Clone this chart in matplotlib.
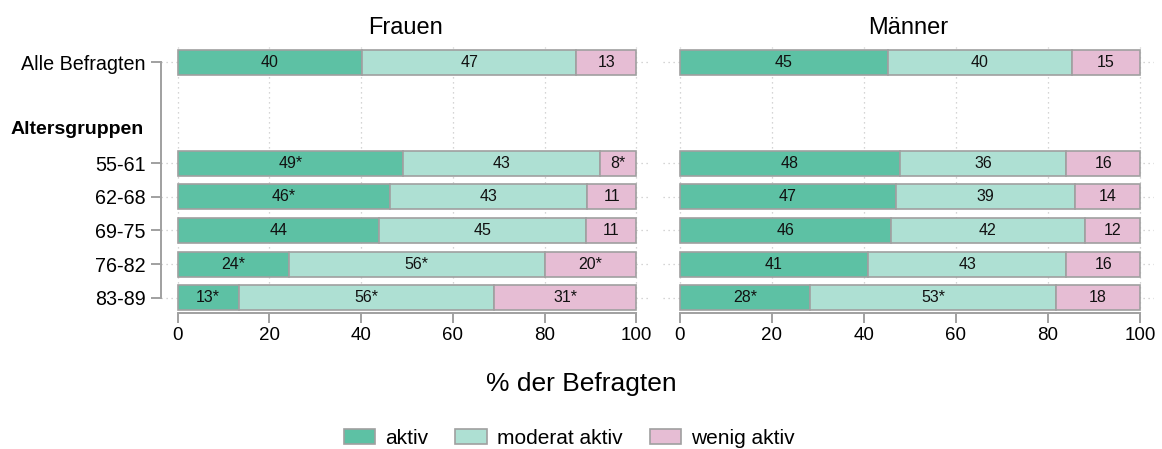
import matplotlib.pyplot as plt
from matplotlib.patches import Patch

plt.rcParams['font.family'] = ['Liberation Sans', 'DejaVu Sans']

# Data
groups = ["Alle Befragten", "55-61", "62-68", "69-75", "76-82", "83-89"]
categories = ["aktiv", "moderat aktiv", "wenig aktiv"]
panels = ["Frauen", "Männer"]

frauen_aktiv = [40.3, 49.2, 46.3, 44, 24.2, 13.3]
frauen_moderat = [46.6, 42.8, 43, 45, 55.8, 55.7]
frauen_wenig = [13.1, 8, 10.7, 11, 20, 31]
frauen_labels = [["40", "49*", "46*", "44", "24*", "13*"],
                 ["47", "43", "43", "45", "56*", "56*"],
                 ["13", "8*", "11", "11", "20*", "31*"]]

maenner_aktiv = [45.2, 47.8, 47, 45.8, 41, 28.3]
maenner_moderat = [39.9, 36.2, 38.8, 42.2, 43, 53.4]
maenner_wenig = [14.9, 16, 14.2, 12, 16, 18.3]
maenner_labels = [["45", "48", "47", "46", "41", "28*"],
                  ["40", "36", "39", "42", "43", "53*"],
                  ["15", "16", "14", "12", "16", "18"]]

colors = ["#5dc1a4", "#aee0d3", "#e6bdd4"]
edge = "#a0a0a0"
ypos = [0, 3, 4, 5, 6, 7]

fig = plt.figure(figsize=(11.62, 4.49), dpi=100)
ax1 = fig.add_axes([0.1386, 0.303, 0.4208, 0.5924])
ax2 = fig.add_axes([0.5706, 0.303, 0.4225, 0.5924])

datasets = [([frauen_aktiv, frauen_moderat, frauen_wenig], frauen_labels),
            ([maenner_aktiv, maenner_moderat, maenner_wenig], maenner_labels)]

for ax, title, (series, labels) in zip([ax1, ax2], panels, datasets):
    left = [0] * len(ypos)
    for vals, lab, col in zip(series, labels, colors):
        bars = ax.barh(ypos, vals, left=left, height=0.74, color=col,
                       edgecolor=edge, linewidth=1.2, zorder=3)
        ax.bar_label(bars, labels=lab, label_type='center', fontsize=11.5, color='#111111')
        left = [l + v for l, v in zip(left, vals)]
    ax.set_xlim(-3.6, 103)
    ax.set_ylim(7.45, -0.45)
    ax.set_xticks([0, 20, 40, 60, 80, 100])
    ax.set_yticks(ypos)
    ax.grid(True, linestyle=(0, (1, 3)), color='#c8c8c8', linewidth=0.9, zorder=0)
    for s in ['top', 'right']:
        ax.spines[s].set_visible(False)
    ax.spines['bottom'].set_bounds(0, 100)
    ax.spines['bottom'].set_color(edge)
    ax.spines['bottom'].set_linewidth(1.4)
    ax.tick_params(axis='x', length=7, width=1.4, color=edge, labelsize=13.5, pad=3)
    ax.set_title(title, fontsize=17, pad=9)

ax1.set_yticklabels(groups)
ax1.spines['left'].set_bounds(0, 7)
ax1.spines['left'].set_color(edge)
ax1.spines['left'].set_linewidth(1.4)
ax1.tick_params(axis='y', length=7, width=1.4, color=edge, labelsize=14.2, pad=4)
ax1.text(-0.035, 2, "Altersgruppen", transform=ax1.get_yaxis_transform(),
         ha='right', va='center', fontsize=14, fontweight='bold')

ax2.spines['left'].set_visible(False)
ax2.tick_params(axis='y', length=0, labelleft=False)

fig.text(0.5, 0.145, "% der Befragten", ha='center', va='center', fontsize=19)

handles = [Patch(facecolor=c, edgecolor=edge, linewidth=1.2) for c in colors]
fig.legend(handles, categories, loc='center', bbox_to_anchor=(0.49, 0.024), ncol=3,
           frameon=False, fontsize=15, handlelength=1.5, handleheight=0.7,
           handletextpad=0.5, columnspacing=1.3)

fig.savefig("out.png", dpi=100)
